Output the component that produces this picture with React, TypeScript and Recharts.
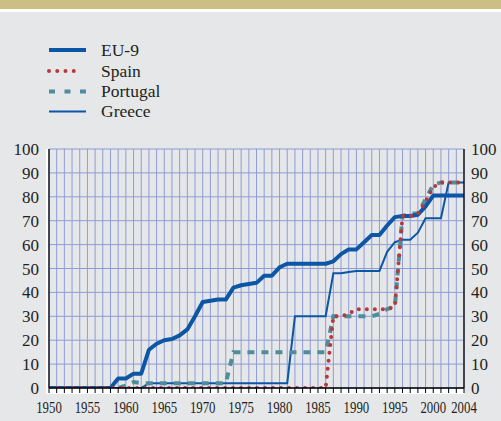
import React from 'react';
import { LineChart, Line, XAxis, YAxis, CartesianGrid } from 'recharts';

const years = [
  1950, 1951, 1952, 1953, 1954, 1955, 1956, 1957, 1958, 1959,
  1960, 1961, 1962, 1963, 1964, 1965, 1966, 1967, 1968, 1969,
  1970, 1971, 1972, 1973, 1974, 1975, 1976, 1977, 1978, 1979,
  1980, 1981, 1982, 1983, 1984, 1985, 1986, 1987, 1988, 1989,
  1990, 1991, 1992, 1993, 1994, 1995, 1996, 1997, 1998, 1999,
  2000, 2001, 2002, 2003, 2004,
];

const eu9 = [
  0, 0, 0, 0, 0, 0, 0, 0, 0, 4,
  4, 6, 6, 16, 18.5, 20, 20.5, 22, 24.5, 30,
  36, 36.5, 37, 37, 42, 43, 43.5, 44, 47, 47,
  50.5, 52, 52, 52, 52, 52, 52, 53, 56, 58,
  58, 61, 64, 64, 68, 71.5, 72, 72, 72.5, 76,
  80.5, 80.5, 80.5, 80.5, 80.5,
];

const spain = [
  0, 0, 0, 0, 0, 0, 0, 0, 0, 0,
  0, 0, 0, 0, 0, 0, 0, 0, 0, 0,
  0, 0, 0, 0, 0, 0, 0, 0, 0, 0,
  0, 0, 0, 0, 0, 0, 0, 30, 30, 31,
  33, 33, 33, 33, 33, 34, 72, 72, 73, 78,
  84, 86, 86, 86, 86,
];

const portugal = [
  0, 0, 0, 0, 0, 0, 0, 0, 0, 0,
  1, 2.5, 2, 2, 2, 2, 2, 2, 2, 2,
  2, 2, 2, 2, 15, 15, 15, 15, 15, 15,
  15, 15, 15, 15, 15, 15, 15, 30, 30, 30,
  30, 30, 30, 31, 33, 34, 72, 73, 73, 79,
  85, 86, 86, 86, 86,
];

const greece = [
  0, 0, 0, 0, 0, 0, 0, 0, 0, 0,
  0, 0, 0, 2, 2, 2, 2, 2, 2, 2,
  2, 2, 2, 2, 2, 2, 2, 2, 2, 2,
  2, 2, 30, 30, 30, 30, 30, 48, 48, 48.5,
  49, 49, 49, 49, 57, 61, 62, 62, 65, 71,
  71, 71, 86, 86, 86,
];

const xTickLabels = [1950, 1955, 1960, 1965, 1970, 1975, 1980, 1985, 1990, 1995, 2000, 2004];
const yTicks = [0, 10, 20, 30, 40, 50, 60, 70, 80, 90, 100];

const legendNames = ['EU-9', 'Spain', 'Portugal', 'Greece'];

const data = years.map((y, i) => ({
  year: y,
  eu9: eu9[i],
  spain: spain[i],
  portugal: portugal[i],
  greece: greece[i],
}));

const BLUE = '#0c56a6';
const RED = '#b8383a';
const TEAL = '#4f8d9c';
const GRID = '#8e9dd6';
const BG = '#e6e7e9';
const TEXT = '#231f20';
const SERIF = '"Liberation Serif", "Times New Roman", serif';

const XTick = (props: any) => {
  const { x, y, payload } = props;
  if (!xTickLabels.includes(payload.value)) return null;
  return (
    <text transform={`translate(${x},${y}) scale(0.8,1)`} x={0} y={0} dy="0.71em" textAnchor="middle"
      fontFamily={SERIF} fontSize={16} fill={TEXT}>
      {payload.value}
    </text>
  );
};

const RightTick = (props: any) => {
  const { x, y, payload } = props;
  return (
    <text x={x} y={y} dy="0.355em" textAnchor="start" fontFamily={SERIF} fontSize={17} fill={TEXT}>
      {payload.value}
    </text>
  );
};

const legendStyles = [
  { stroke: BLUE, strokeWidth: 4, dash: undefined as string | undefined, cap: 'butt' },
  { stroke: RED, strokeWidth: 4, dash: '0 8.25', cap: 'round' },
  { stroke: TEAL, strokeWidth: 4, dash: '6 9.5', cap: 'butt' },
  { stroke: BLUE, strokeWidth: 2, dash: undefined as string | undefined, cap: 'butt' },
];
const legendRows = [50, 71, 91.5, 111.5];

export default function App() {
  return (
    <div style={{ position: 'absolute', left: 0, top: 0, width: 501, height: 421, background: BG, overflow: 'hidden' }}>
      <div style={{ position: 'absolute', left: 0, top: 0, width: 501, height: 9, background: '#cbbf84' }} />
      <div style={{ position: 'absolute', left: 0, top: 9, width: 501, height: 2.5, background: '#ffffff' }} />
      <div style={{ position: 'absolute', left: 46, top: 149, width: 418, height: 245, background: '#ffffff' }} />
      <svg style={{ position: 'absolute', left: 0, top: 0 }} width={220} height={130}>
        {legendNames.map((name, i) => (
          <g key={name}>
            <line x1={49} x2={i === 1 ? 82 : 86} y1={legendRows[i]} y2={legendRows[i]}
              stroke={legendStyles[i].stroke} strokeWidth={legendStyles[i].strokeWidth}
              strokeDasharray={legendStyles[i].dash} strokeLinecap={legendStyles[i].cap as any} />
            <text x={101} y={legendRows[i]} dy="0.34em" fontFamily={SERIF} fontSize={17.5} fill={TEXT}>{name}</text>
          </g>
        ))}
      </svg>
      <div style={{ position: 'absolute', left: 0, top: 0 }}>
        <LineChart width={501} height={421} data={data}
          margin={{ top: 149, right: 0, bottom: 0, left: 0 }}>
          <CartesianGrid yAxisId="left" stroke={GRID} strokeWidth={1} fill={BG} />
          <XAxis dataKey="year" type="number" domain={[1950, 2004]} ticks={years} interval={0}
            height={33} tickSize={5} tickMargin={9} allowDataOverflow
            axisLine={{ stroke: '#000', strokeWidth: 1.3 }} tickLine={{ stroke: '#000', strokeWidth: 1 }}
            tick={<XTick />} />
          <YAxis yAxisId="left" domain={[0, 100]} ticks={yTicks} interval={0} width={49} allowDataOverflow
            tickLine={false} tickMargin={4} axisLine={{ stroke: '#000', strokeWidth: 1.3 }}
            tick={{ fontFamily: SERIF, fontSize: 17, fill: TEXT }} />
          <YAxis yAxisId="right" orientation="right" domain={[0, 100]} ticks={yTicks} interval={0} width={37}
            allowDataOverflow tickLine={false} tickMargin={1} axisLine={{ stroke: '#000', strokeWidth: 1.3 }}
            tick={<RightTick />} />
          <Line yAxisId="left" type="linear" dataKey="greece" name="Greece" stroke={BLUE} strokeWidth={2}
            dot={false} isAnimationActive={false} />
          <Line yAxisId="left" type="linear" dataKey="portugal" name="Portugal" stroke={TEAL} strokeWidth={4}
            strokeDasharray="7 7" dot={false} isAnimationActive={false} />
          <Line yAxisId="right" type="linear" dataKey="eu9" name="EU-9" stroke={BLUE} strokeWidth={4}
            strokeLinejoin="round" dot={false} isAnimationActive={false} />
          <Line yAxisId="left" type="linear" dataKey="spain" name="Spain" stroke={RED} strokeWidth={4}
            strokeDasharray="0 8" strokeLinecap="round" dot={false} isAnimationActive={false} />
        </LineChart>
      </div>
    </div>
  );
}
